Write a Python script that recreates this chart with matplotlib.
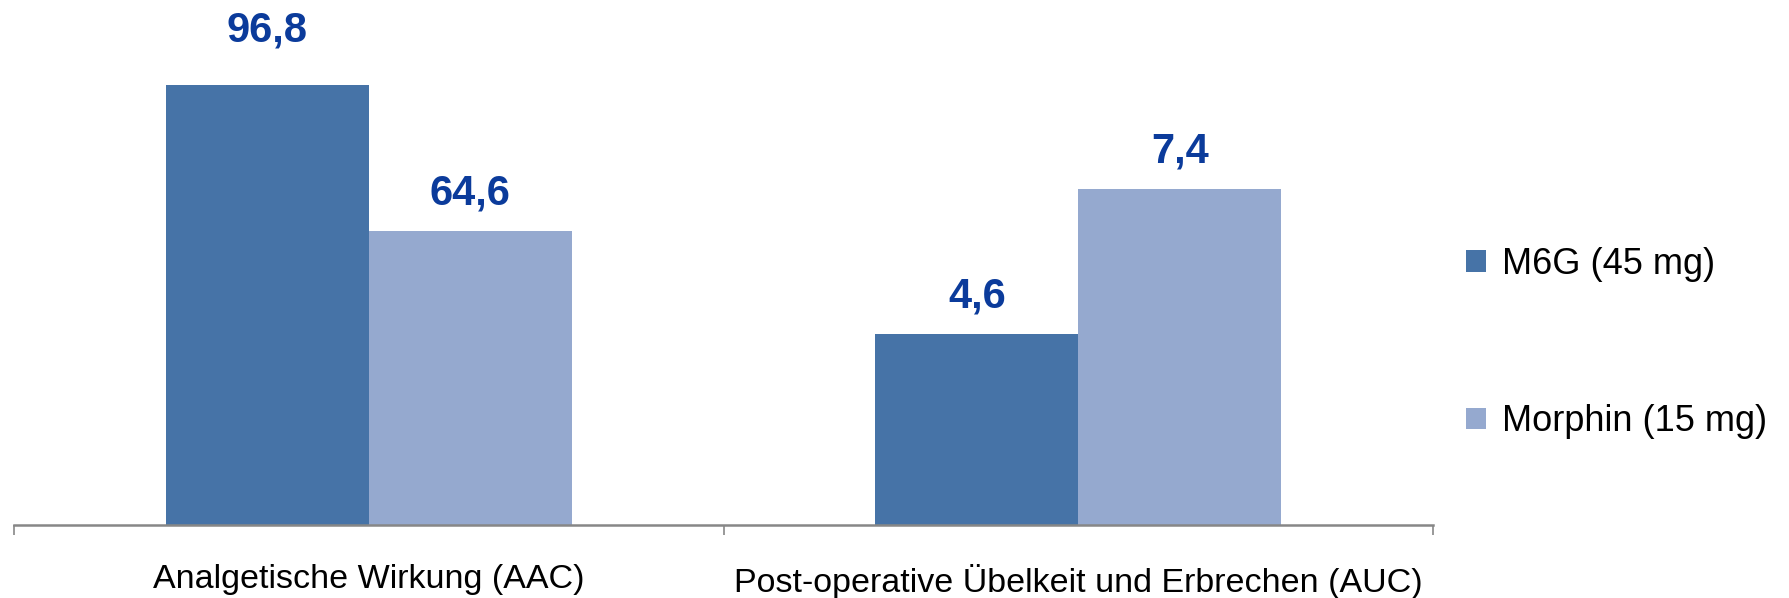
import matplotlib.pyplot as plt
import numpy as np

# chart data (bar heights, labels as printed)
categories = ["Analgetische Wirkung (AAC)", "Post-operative Übelkeit und Erbrechen (AUC)"]
series_names = ["M6G (45 mg)", "Morphin (15 mg)"]
m6g_heights = [96.8, 42.0]
morphin_heights = [64.6, 73.9]
m6g_labels = ["96,8", "4,6"]
morphin_labels = ["64,6", "7,4"]

dark_blue = "#4673A7"
light_blue = "#95A9CF"
label_blue = "#0B3B9B"
axis_gray = "#878787"

plt.rcParams["font.family"] = ["Liberation Sans", "DejaVu Sans"]

W, H = 1789, 598
fig = plt.figure(figsize=(W / 100, H / 100), dpi=100)
ax = fig.add_axes([14 / W, (H - 525) / H, (1433 - 14) / W, (525 - 25) / H])

x = np.arange(len(categories))
width = 0.286
bars_m6g = ax.bar(x - width / 2, m6g_heights, width, color=dark_blue, label=series_names[0])
bars_mor = ax.bar(x + width / 2, morphin_heights, width, color=light_blue, label=series_names[1])

for bars, labels in [(bars_m6g, m6g_labels), (bars_mor, morphin_labels)]:
    for rect, text in zip(bars, labels):
        h = rect.get_height()
        # the tallest label sits a bit higher in the original
        dy = 39 if h > 90 else 27
        ax.annotate(text, (rect.get_x() + rect.get_width() / 2, h),
                    xytext=(0, dy), textcoords="offset points",
                    ha="center", va="center", fontsize=30, fontweight="bold",
                    color=label_blue, annotation_clip=False)

ax.set_xlim(-0.5, len(categories) - 0.5)
ax.set_ylim(0, 110)

ax.set_xticks(x)
ax.set_xticklabels(categories, fontsize=24.5)
ax.set_xticks(np.arange(len(categories) + 1) - 0.5, minor=True)
ax.tick_params(axis="x", which="major", length=0, pad=28)
ax.tick_params(axis="x", which="minor", length=7, width=1.2, color=axis_gray)
ax.set_yticks([])

for side in ["top", "right", "left"]:
    ax.spines[side].set_visible(False)
ax.spines["bottom"].set_color(axis_gray)
ax.spines["bottom"].set_linewidth(1.8)

fig.legend(handles=[bars_m6g, bars_mor], loc="center left",
           bbox_to_anchor=(1466 / W, (H - 343) / H), frameon=False,
           fontsize=26, handlelength=0.55, handleheight=0.55,
           handletextpad=0.45, labelspacing=3.4, borderpad=0, borderaxespad=0)

plt.savefig("out.png", dpi=100)
plt.close()
